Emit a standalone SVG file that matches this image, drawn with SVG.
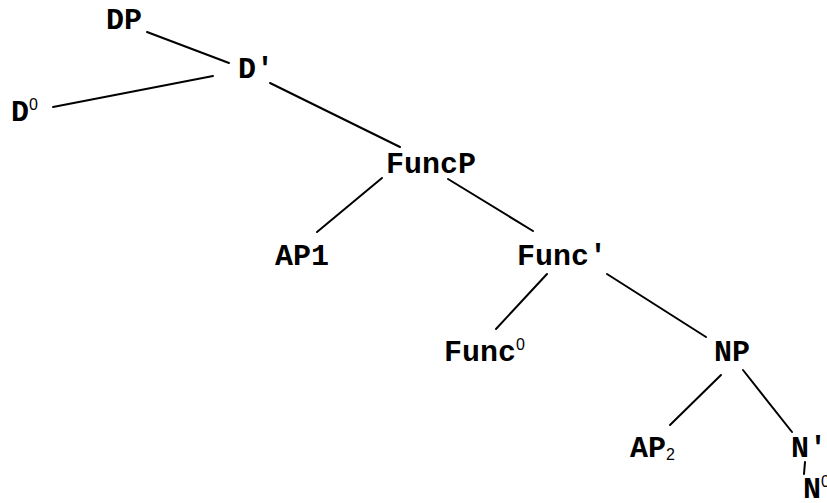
<svg xmlns="http://www.w3.org/2000/svg" width="827" height="503" viewBox="0 0 827 503">
<style>
text{font-family:"Liberation Mono","Courier New",monospace;font-weight:bold;font-size:30px;fill:#000}
.sup{font-family:"Liberation Sans",Arial,sans-serif;font-weight:normal;font-size:16px}
#edges line{stroke:#000;stroke-width:2;stroke-linecap:round}
</style>
<rect width="827" height="503" fill="#fff"/>
<g id="edges">
<line x1="147" y1="32" x2="229" y2="63"/>
<line x1="53" y1="107" x2="213" y2="76"/>
<line x1="270" y1="83" x2="400" y2="147"/>
<line x1="382" y1="178" x2="317" y2="232"/>
<line x1="448" y1="179" x2="533" y2="231"/>
<line x1="547" y1="274" x2="496" y2="329"/>
<line x1="607" y1="274" x2="706" y2="337"/>
<line x1="721" y1="375" x2="670" y2="425"/>
<line x1="743" y1="370" x2="792" y2="432"/>
<line x1="805" y1="462" x2="804" y2="474"/>
</g>
<g id="DP"><text x="106" y="29">DP</text></g>
<g id="Dbar"><text x="238" y="78">D'</text></g>
<g id="D0"><text x="11" y="121">D<tspan class="sup" dy="-11">0</tspan></text></g>
<g id="FuncP"><text x="386" y="173">FuncP</text></g>
<g id="AP1"><text x="275" y="265">AP1</text></g>
<g id="Funcbar"><text x="517" y="265">Func'</text></g>
<g id="Func0"><text x="444" y="361">Func<tspan class="sup" dy="-11">0</tspan></text></g>
<g id="NP"><text x="714" y="361">NP</text></g>
<g id="AP2"><text x="630" y="457">AP<tspan class="sup" dy="3">2</tspan></text></g>
<g id="Nbar"><text x="791" y="457">N'</text></g>
<g id="N0"><text x="803" y="498">N<tspan class="sup" dy="-11">0</tspan></text></g>
</svg>
